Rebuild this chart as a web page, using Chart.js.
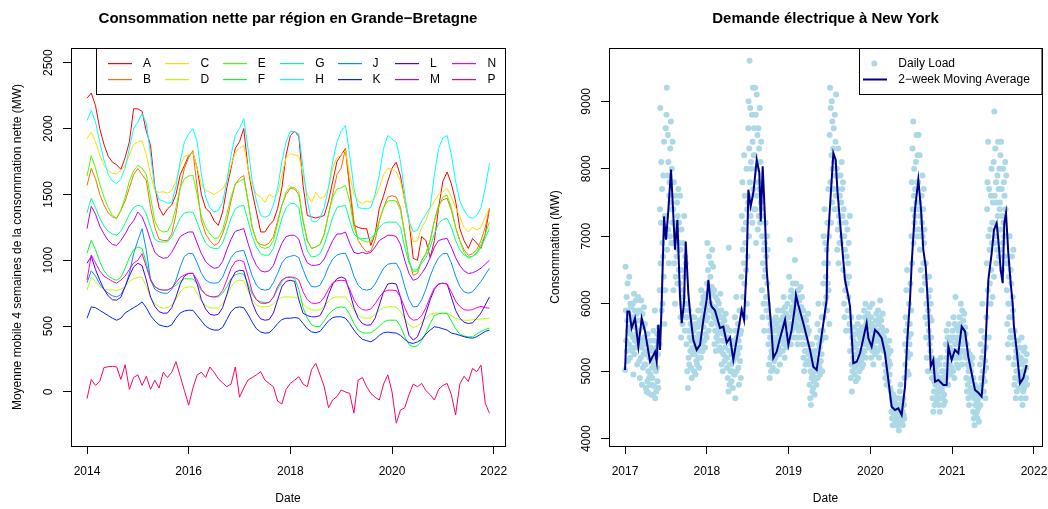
<!DOCTYPE html>
<html>
<head>
<meta charset="utf-8">
<script src="https://cdn.jsdelivr.net/npm/chart.js"></script>
<style>
body { margin: 0; background: #fff; }
#wrap { position: relative; width: 1048px; height: 509px; }
canvas { position: absolute; top: 0; }
</style>
</head>
<body>
<div id="wrap">
	<canvas id="gbChart" width="524" height="509" style="left:0"></canvas>
	<canvas id="nyChart" width="524" height="509" style="left:524px"></canvas>
</div>
<script>
// ---- data: left panel (monthly, Jan 2014 -> Dec 2021) ----
var regionNames = ["A", "B", "C", "D", "E", "F", "G", "H", "J", "K", "L", "M", "N", "P"]
var seriesA = [
	2230, 2270, 2174, 2000, 1880, 1790, 1745, 1725, 1690, 1780, 1900, 2150,
	2150, 2130, 1980, 1871, 1560, 1400, 1341, 1390, 1420, 1500, 1650, 1720,
	1795, 1820, 1700, 1500, 1394, 1366, 1300, 1265, 1366, 1550, 1700, 1850,
	1900, 2000, 1700, 1518, 1366, 1215, 1215, 1265, 1300, 1394, 1550, 1800,
	1947, 1980, 1940, 1568, 1340, 1330, 1320, 1330, 1340, 1450, 1600, 1750,
	1800, 1848, 1545, 1265, 1250, 1240, 1240, 1113, 1200, 1394, 1490, 1600,
	1700, 1745, 1640, 1450, 1300, 1015, 1000, 1180, 1150, 1020, 1150, 1400,
	1600, 1670, 1580, 1450, 1240, 1150, 1090, 1165, 1130, 1090, 1200, 1394]
var seriesB = [
	1568, 1697, 1620, 1500, 1420, 1360, 1330, 1318, 1380, 1450, 1550, 1650,
	1697, 1650, 1606, 1400, 1250, 1160, 1150, 1150, 1200, 1350, 1550, 1700,
	1780, 1833, 1550, 1300, 1200, 1150, 1113, 1130, 1200, 1300, 1450, 1580,
	1620, 1644, 1450, 1250, 1150, 1120, 1113, 1130, 1180, 1300, 1420, 1500,
	1545, 1540, 1500, 1300, 1150, 1090, 1100, 1120, 1200, 1350, 1500, 1650,
	1700, 1848, 1568, 1300, 1150, 1100, 1063, 1070, 1150, 1300, 1400, 1480,
	1490, 1480, 1400, 1200, 1000, 886, 900, 1000, 1050, 1150, 1300, 1420,
	1460, 1470, 1380, 1250, 1150, 1080, 1038, 1050, 1080, 1150, 1250, 1394]
var seriesC = [
	1924, 1972, 1900, 1800, 1720, 1680, 1660, 1657, 1680, 1720, 1800, 1880,
	1896, 1909, 1800, 1650, 1530, 1515, 1520, 1510, 1530, 1600, 1720, 1790,
	1800, 1820, 1700, 1580, 1530, 1517, 1500, 1520, 1540, 1600, 1720, 1820,
	1850, 1871, 1700, 1560, 1500, 1480, 1440, 1500, 1480, 1500, 1650, 1780,
	1810, 1800, 1790, 1650, 1500, 1440, 1515, 1470, 1480, 1550, 1700, 1780,
	1800, 1833, 1650, 1500, 1450, 1430, 1450, 1440, 1480, 1550, 1650, 1697,
	1690, 1672, 1600, 1450, 1300, 1139, 1150, 1250, 1300, 1394, 1450, 1500,
	1520, 1545, 1480, 1400, 1330, 1250, 1215, 1250, 1230, 1250, 1330, 1394]
var seriesD = [
	773, 873, 840, 800, 780, 775, 775, 770, 780, 800, 840, 860,
	870, 873, 800, 720, 670, 645, 636, 640, 660, 700, 760, 790,
	798, 798, 750, 690, 655, 640, 636, 640, 670, 730, 800, 840,
	848, 845, 770, 700, 660, 648, 646, 650, 670, 700, 720, 722,
	722, 720, 710, 670, 640, 625, 621, 625, 650, 690, 715, 722,
	722, 720, 680, 620, 580, 565, 560, 562, 590, 620, 640, 646,
	646, 645, 610, 560, 510, 490, 500, 530, 560, 590, 600, 598,
	598, 598, 580, 560, 550, 545, 545, 548, 550, 555, 558, 560]
var seriesE = [
	1640, 1795, 1700, 1580, 1480, 1400, 1340, 1318, 1380, 1480, 1600, 1680,
	1720, 1700, 1650, 1480, 1300, 1230, 1215, 1220, 1280, 1400, 1550, 1620,
	1640, 1644, 1500, 1330, 1250, 1200, 1166, 1170, 1230, 1350, 1480, 1580,
	1600, 1620, 1450, 1250, 1150, 1100, 1090, 1100, 1150, 1280, 1420, 1520,
	1556, 1550, 1520, 1300, 1150, 1090, 1100, 1120, 1200, 1350, 1480, 1540,
	1550, 1568, 1450, 1250, 1170, 1150, 1139, 1140, 1200, 1300, 1400, 1450,
	1455, 1450, 1380, 1200, 1000, 911, 920, 1000, 1050, 1150, 1300, 1400,
	1480, 1495, 1400, 1250, 1150, 1060, 1015, 1030, 1060, 1120, 1200, 1290]
var seriesF = [
	1053, 1152, 1080, 990, 920, 880, 860, 848, 870, 940, 1020, 1080,
	1101, 1090, 980, 860, 800, 780, 773, 775, 790, 810, 840, 860,
	860, 858, 820, 770, 740, 725, 720, 722, 750, 800, 860, 890,
	900, 895, 820, 740, 700, 685, 680, 682, 720, 780, 840, 870,
	873, 860, 780, 640, 560, 510, 495, 500, 540, 590, 620, 640,
	646, 640, 590, 520, 470, 450, 447, 450, 470, 500, 530, 545,
	545, 545, 500, 420, 360, 343, 350, 390, 450, 520, 580, 595,
	598, 596, 540, 480, 440, 425, 419, 420, 440, 460, 475, 485]
var seriesG = [
	1360, 1470, 1400, 1320, 1260, 1220, 1200, 1190, 1220, 1280, 1350, 1400,
	1417, 1410, 1350, 1250, 1160, 1140, 1139, 1140, 1180, 1250, 1320, 1360,
	1366, 1366, 1290, 1200, 1130, 1100, 1090, 1090, 1130, 1220, 1320, 1390,
	1410, 1417, 1300, 1180, 1100, 1050, 1038, 1040, 1090, 1200, 1320, 1400,
	1432, 1430, 1400, 1200, 1070, 1025, 1030, 1050, 1120, 1220, 1330, 1400,
	1410, 1417, 1300, 1200, 1170, 1166, 1166, 1170, 1200, 1250, 1280, 1290,
	1290, 1290, 1250, 1100, 980, 924, 930, 980, 1020, 1100, 1200, 1280,
	1310, 1318, 1250, 1150, 1080, 1040, 1025, 1030, 1050, 1100, 1170, 1240]
var seriesH = [
	2060, 2136, 2050, 1900, 1760, 1650, 1600, 1583, 1620, 1700, 1850, 2000,
	2050, 2113, 2040, 1800, 1550, 1460, 1450, 1432, 1440, 1560, 1750, 1900,
	1960, 2000, 1900, 1650, 1480, 1400, 1366, 1380, 1440, 1600, 1800, 1950,
	2000, 2076, 1850, 1600, 1450, 1340, 1328, 1340, 1420, 1550, 1750, 1900,
	1980, 1975, 1960, 1700, 1450, 1300, 1290, 1320, 1400, 1550, 1750, 1900,
	1980, 2023, 1800, 1550, 1400, 1394, 1390, 1400, 1500, 1650, 1850, 1947,
	1920, 1896, 1750, 1500, 1300, 1215, 1230, 1300, 1350, 1400, 1650, 1850,
	1930, 1947, 1800, 1600, 1450, 1380, 1330, 1318, 1340, 1400, 1550, 1735]
var seriesJ = [
	830, 920, 880, 820, 780, 750, 730, 722, 740, 800, 900, 1050,
	1150, 1240, 1076, 850, 780, 760, 750, 750, 780, 850, 950, 1030,
	1053, 1050, 980, 900, 850, 830, 826, 830, 870, 950, 1020, 1060,
	1070, 1076, 980, 880, 810, 780, 773, 780, 830, 900, 980, 1020,
	1030, 1038, 1020, 930, 850, 800, 798, 810, 870, 950, 1010, 1040,
	1050, 1053, 980, 880, 810, 780, 773, 780, 820, 880, 940, 970,
	977, 977, 920, 800, 700, 646, 650, 700, 780, 880, 960, 1020,
	1050, 1053, 980, 880, 800, 760, 750, 760, 800, 840, 890, 939]
var seriesK = [
	560, 646, 640, 620, 600, 580, 560, 545, 560, 600, 620, 640,
	659, 684, 640, 580, 540, 510, 500, 495, 510, 560, 600, 615,
	621, 620, 580, 540, 500, 480, 470, 470, 490, 550, 610, 640,
	646, 640, 590, 530, 480, 455, 447, 450, 480, 520, 550, 560,
	560, 565, 560, 520, 480, 457, 450, 460, 500, 540, 565, 571,
	571, 560, 520, 470, 430, 400, 390, 381, 400, 430, 450, 455,
	450, 447, 430, 400, 375, 369, 380, 400, 440, 470, 495, 490,
	480, 470, 447, 440, 430, 420, 412, 409, 420, 440, 460, 470]
var seriesL = [
	977, 1030, 930, 850, 780, 730, 700, 697, 720, 800, 880, 950,
	977, 960, 850, 720, 650, 610, 598, 600, 640, 720, 820, 880,
	900, 901, 820, 700, 630, 590, 583, 590, 640, 740, 850, 910,
	924, 920, 800, 680, 600, 555, 545, 550, 600, 700, 800, 840,
	848, 840, 700, 598, 580, 571, 571, 580, 640, 740, 820, 860,
	873, 860, 760, 640, 560, 520, 507, 510, 560, 660, 760, 820,
	826, 820, 720, 560, 430, 394, 420, 500, 600, 700, 780, 820,
	826, 820, 720, 620, 560, 530, 520, 525, 560, 600, 660, 722]
var seriesM = [
	1240, 1410, 1350, 1260, 1200, 1150, 1120, 1113, 1150, 1200, 1260, 1300,
	1366, 1330, 1250, 1150, 1060, 1030, 1015, 1020, 1060, 1120, 1180, 1200,
	1215, 1215, 1130, 1050, 990, 960, 939, 945, 990, 1080, 1160, 1220,
	1230, 1240, 1130, 1030, 960, 920, 911, 920, 960, 1050, 1130, 1180,
	1190, 1190, 1160, 1050, 980, 962, 962, 970, 1010, 1080, 1150, 1200,
	1200, 1215, 1130, 1060, 1050, 1060, 1050, 1060, 1100, 1150, 1170, 1190,
	1190, 1180, 1120, 1000, 900, 848, 860, 900, 950, 1020, 1100, 1150,
	1160, 1166, 1100, 1020, 960, 920, 900, 905, 920, 940, 970, 1000]
var seriesN = [
	850, 1040, 980, 920, 880, 860, 840, 826, 850, 880, 930, 980,
	1000, 1050, 950, 850, 800, 780, 773, 775, 790, 830, 870, 890,
	901, 900, 850, 780, 740, 725, 722, 730, 770, 850, 940, 990,
	1000, 990, 880, 760, 700, 675, 672, 680, 720, 800, 850, 870,
	873, 870, 850, 760, 700, 675, 672, 680, 720, 780, 830, 845,
	848, 845, 780, 700, 650, 625, 621, 630, 670, 720, 760, 773,
	773, 770, 720, 640, 570, 545, 550, 580, 640, 720, 790, 820,
	826, 820, 760, 690, 650, 625, 621, 625, 640, 650, 640, 636]
var seriesP = [
	-50, 95, 50, 80, 185, 192, 195, 190, 95, 207, 20, 110,
	130, 50, 120, 20, 90, 30, 150, 110, 150, 230, 120, 10,
	-100, 30, 130, 150, 110, 190, 150, 100, 70, 40, 60, 190,
	-40, 30, 91, 110, 130, 154, 90, 65, 40, -70, -90, 20,
	65, 90, 116, 60, 40, 170, 217, 130, 40, -120, -60, -35,
	15, 0, -10, -161, 90, 110, 40, -10, -40, -61, 60, 130,
	0, -237, -136, -120, -20, 60, 40, 65, 10, -20, -61, 20,
	50, 65, -20, -174, 60, 120, 80, 179, 154, 204, -86, -161]
var gbSeries = [seriesA, seriesB, seriesC, seriesD, seriesE, seriesF, seriesG,
	seriesH, seriesJ, seriesK, seriesL, seriesM, seriesN, seriesP]
var gbXTicks = [2014, 2016, 2018, 2020, 2022]
var gbYTicks = [0, 500, 1000, 1500, 2000, 2500]

// ---- data: right panel (daily load sampled 20 days a month, moving average) ----
var nyYears = [2017, 2018, 2019, 2020, 2021]
var nyLoad2017 = [
	[5020, 6550, 5900, 5450, 6100, 5300, 5750, 6300, 5150, 5600, 5850, 5400, 6400, 5650, 5200, 6000, 5550, 5950, 5350, 5750],
	[5800, 5300, 6000, 5500, 4950, 5700, 6150, 5250, 5900, 5450, 5650, 6050, 5350, 5850, 5550, 5100, 5750, 5400, 6100, 5600],
	[5600, 5150, 5900, 4900, 5400, 5750, 5200, 6050, 5350, 4800, 5450, 5850, 5050, 5650, 5250, 5950, 5500, 5100, 5700, 5300],
	[5100, 4750, 5400, 4700, 5250, 4850, 5550, 4680, 5000, 5300, 4900, 5200, 4800, 5450, 4950, 5350, 4650, 5150, 4800, 5050],
	[4900, 5300, 4650, 5600, 5100, 4780, 5450, 5900, 4600, 5200, 5000, 4700, 5350, 5050, 5550, 4850, 5250, 4750, 5400, 5650],
	[5400, 6200, 7400, 8900, 6600, 7200, 8100, 5900, 7700, 6900, 6000, 6700, 7900, 6400, 8400, 5700, 7300, 6200, 7000, 8600],
	[7300, 8800, 9200, 6800, 7900, 8500, 7100, 8100, 6600, 7600, 7800, 7000, 8300, 7500, 8700, 6900, 7400, 8000, 7200, 8400],
	[6900, 7400, 6200, 7800, 6600, 7200, 6000, 7600, 6400, 7000, 7100, 6700, 7500, 6300, 7300, 6800, 7700, 6500, 7200, 6900],
	[6300, 7600, 5800, 6800, 5500, 7100, 6000, 6500, 5700, 6200, 6100, 6900, 5900, 7300, 6400, 5600, 6700, 6000, 6600, 5800],
	[5400, 5800, 5000, 6000, 4750, 5600, 5200, 5900, 5100, 5500, 5600, 5300, 5700, 5050, 5450, 4900, 5800, 5350, 5650, 5250],
	[5300, 5600, 5000, 5800, 5250, 5500, 4950, 5700, 5400, 5150, 5450, 5100, 5650, 5350, 5900, 5200, 5550, 5050, 5750, 5300],
	[5500, 5900, 5200, 6200, 5700, 5400, 6000, 5300, 5800, 6100, 5650, 6050, 5450, 5850, 5350, 5950, 5550, 6150, 5750, 5500]]
var nyLoad2018 = [
	[6300, 6900, 5800, 6500, 6100, 5600, 6700, 5900, 6200, 6000, 6400, 6000, 6600, 5700, 6250, 6800, 5950, 6150, 6550, 5850],
	[5800, 6200, 5400, 5950, 5600, 6100, 5300, 5750, 5500, 5900, 5700, 6050, 5550, 5850, 5450, 6000, 5650, 5350, 5800, 6150],
	[5600, 5300, 5900, 5100, 5700, 5450, 5000, 5800, 5250, 5550, 5450, 5750, 5150, 5600, 5350, 5850, 5200, 5500, 5650, 5050],
	[5200, 4900, 5500, 4700, 6830, 5300, 4800, 5100, 5600, 5000, 5100, 5400, 4850, 5250, 5000, 5450, 4750, 5150, 5300, 4950],
	[5400, 4950, 5800, 4600, 5600, 5200, 6100, 5000, 5500, 5300, 5250, 5700, 5050, 5450, 4800, 5900, 5350, 5150, 5550, 4900],
	[5600, 6400, 7300, 5900, 7800, 6800, 6100, 7100, 6600, 8200, 6300, 7600, 6900, 5800, 7200, 6500, 8000, 6000, 7400, 6700],
	[7500, 8600, 9000, 7000, 8300, 9600, 7800, 8900, 7300, 8100, 8000, 7600, 8800, 7200, 8400, 9200, 7700, 8200, 8600, 7400],
	[8200, 9200, 7400, 8800, 6900, 8000, 9100, 7600, 8500, 7100, 7800, 8600, 7300, 8300, 7700, 8900, 7200, 8100, 7500, 8400],
	[7400, 6200, 7000, 5800, 6600, 7300, 6000, 6800, 5600, 6400, 6900, 6500, 7200, 6100, 6700, 5900, 7000, 6300, 6800, 6000],
	[5400, 5800, 5100, 5600, 4900, 5500, 5200, 5700, 5000, 5300, 5500, 5250, 5650, 5050, 5450, 5350, 5750, 5150, 5600, 5400],
	[5500, 5200, 5800, 5400, 5700, 5000, 5600, 5300, 5900, 5450, 5350, 5650, 5250, 5550, 5100, 5750, 5450, 5300, 5650, 5500],
	[5600, 5900, 5300, 5800, 5500, 6100, 5400, 5700, 5200, 5950, 5750, 5450, 5850, 5350, 5650, 5550, 6000, 5500, 5800, 5400]]
var nyLoad2019 = [
	[5800, 6400, 5500, 6950, 5700, 6100, 5400, 6200, 5900, 5600, 5950, 5650, 6300, 5850, 6050, 5500, 6150, 5750, 6650, 5650],
	[6000, 5700, 6300, 5500, 5900, 6100, 5400, 5800, 6200, 5600, 5850, 6050, 5650, 5950, 5500, 6250, 5750, 5950, 5650, 6100],
	[5700, 5400, 5900, 5200, 5600, 5000, 5800, 5300, 5500, 5100, 5500, 5750, 5300, 5650, 5150, 5550, 5400, 5850, 5250, 5600],
	[5100, 4800, 5300, 4600, 5000, 4500, 5200, 4900, 5400, 4700, 4950, 5150, 4750, 5250, 4850, 5050, 4650, 5300, 4900, 5100],
	[5200, 4800, 5500, 5000, 5700, 4900, 5300, 6000, 5100, 5400, 5050, 5350, 4950, 5600, 5150, 5450, 5250, 5800, 5000, 5500],
	[5600, 6300, 7000, 5800, 6600, 7400, 6000, 6900, 5500, 6400, 6100, 6800, 5900, 7200, 6300, 6600, 7700, 6200, 7000, 5700],
	[8500, 9200, 7800, 8900, 7200, 8200, 9000, 7500, 8700, 8000, 8300, 7700, 8600, 8100, 7400, 8800, 7900, 8400, 7600, 9100],
	[7400, 8000, 6800, 7700, 7100, 8300, 6600, 7300, 7900, 6900, 7600, 7200, 7900, 6900, 7500, 8100, 7000, 7700, 7300, 7800],
	[6500, 7400, 6000, 7000, 5800, 6800, 6200, 7200, 5600, 6400, 6700, 6300, 7100, 5900, 6600, 6100, 6900, 6400, 5700, 7300],
	[5300, 5600, 4900, 5800, 5100, 4700, 5500, 5000, 5400, 5200, 5450, 5150, 5650, 4950, 5350, 5050, 5550, 4850, 5250, 5400],
	[5400, 5100, 5700, 4900, 5600, 5300, 5800, 5000, 5500, 5200, 5300, 5550, 5150, 5450, 5050, 5650, 5250, 5500, 5100, 5400],
	[5600, 5900, 5300, 5800, 5500, 6000, 5200, 5700, 5400, 5750, 5650, 5450, 5850, 5550, 5750, 5350, 5650, 5950, 5500, 5700]]
var nyLoad2020 = [
	[5500, 5800, 5200, 5700, 5400, 6000, 5300, 5600, 5100, 5650, 5450, 5650, 5350, 5550, 5250, 5750, 5450, 5850, 5300, 5500],
	[5600, 5300, 5900, 5450, 5700, 5200, 5800, 5500, 6050, 5350, 5500, 5750, 5400, 5650, 5350, 5550, 5850, 5450, 5600, 5300],
	[5500, 5100, 5400, 4900, 5300, 5000, 5600, 4800, 5200, 4950, 5350, 5050, 5250, 4850, 5150, 5450, 4950, 5100, 4750, 5300],
	[4700, 4400, 4600, 4300, 4550, 4200, 4500, 4650, 4350, 4450, 4550, 4350, 4500, 4250, 4600, 4400, 4300, 4500, 4200, 4400],
	[4400, 4200, 4600, 4120, 4500, 4300, 4700, 4250, 4800, 4450, 4350, 4500, 4250, 4550, 4400, 4200, 4600, 4350, 4500, 4300],
	[4900, 5400, 5100, 5800, 5600, 6200, 5300, 6500, 5000, 5700, 5200, 5500, 4950, 6000, 5400, 5700, 5250, 6300, 5550, 5900],
	[7000, 7800, 6600, 8300, 7400, 8700, 6900, 7600, 8000, 7200, 7300, 7700, 7100, 8100, 7500, 8500, 7000, 7800, 8200, 7400],
	[7800, 8500, 7100, 7500, 8200, 6800, 7300, 6500, 7000, 6200, 7600, 7200, 7900, 7000, 7400, 6600, 7700, 6900, 7100, 6400],
	[6300, 5800, 6600, 5500, 6000, 5200, 6400, 5700, 5000, 5900, 6100, 5600, 6400, 5400, 6200, 5800, 5300, 6000, 5500, 5750],
	[4900, 5200, 4600, 5000, 4400, 5100, 4700, 4850, 4500, 5000, 4800, 5050, 4700, 4950, 4550, 5150, 4650, 4900, 4600, 4750],
	[4800, 4500, 5100, 4400, 4900, 4700, 5200, 4600, 5000, 4750, 4700, 4900, 4600, 4850, 4500, 5000, 4650, 4800, 4550, 4950],
	[5100, 5400, 4900, 5600, 5200, 5000, 5500, 5300, 4800, 5700, 5200, 5000, 5350, 5100, 5450, 4950, 5250, 5500, 5050, 5300]]
var nyLoad2021 = [
	[5300, 5600, 5000, 5800, 5200, 5500, 4900, 5700, 5400, 6100, 5400, 5200, 5500, 5100, 5650, 5300, 5450, 5050, 5600, 5250],
	[5500, 5800, 5200, 5700, 5300, 6000, 5400, 5600, 5100, 5900, 5600, 5400, 5750, 5300, 5500, 5850, 5450, 5650, 5250, 5550],
	[5200, 4900, 5400, 4700, 5100, 4800, 5300, 4600, 5000, 4500, 5050, 5250, 4850, 5150, 4750, 5000, 4650, 5100, 4900, 5200],
	[4700, 4400, 4900, 4300, 4600, 4200, 4800, 4500, 4650, 4350, 4500, 4650, 4400, 4550, 4300, 4750, 4450, 4600, 4250, 4500],
	[4700, 5100, 4500, 5400, 4900, 5600, 4800, 5200, 6000, 5000, 4900, 5300, 4700, 5000, 5500, 4850, 5150, 4600, 5350, 5050],
	[5800, 6600, 7400, 7800, 6200, 8400, 7000, 5500, 7700, 6800, 6300, 7100, 6000, 7600, 6500, 8000, 6900, 7200, 6100, 7500],
	[7200, 8100, 6400, 8850, 7600, 6900, 8300, 7000, 7800, 6600, 7500, 6800, 7900, 7300, 8400, 7100, 7700, 6700, 8000, 7400],
	[7500, 8200, 6800, 8400, 7100, 7700, 6500, 7300, 6900, 8000, 7200, 7800, 7000, 7600, 6700, 8100, 7400, 7000, 7900, 6600],
	[6200, 5700, 6600, 5400, 6000, 5200, 6400, 5800, 7000, 5500, 6000, 6500, 5600, 6300, 5800, 6700, 5500, 6100, 5900, 6800],
	[5100, 5400, 4800, 5600, 4900, 5200, 4600, 5300, 5000, 4700, 5000, 5250, 4900, 5450, 5100, 4750, 5350, 4850, 5150, 4950],
	[4900, 5200, 4600, 5500, 4800, 5100, 4500, 5000, 4700, 5300, 5000, 4750, 5350, 4850, 5150, 4600, 5050, 4900, 5250, 4800]]
var maDates = [
	2017.000, 2017.029, 2017.053, 2017.081, 2017.122, 2017.163, 2017.204, 2017.245, 2017.306, 2017.367,
	2017.387, 2017.407, 2017.428, 2017.448, 2017.477, 2017.501, 2017.530, 2017.562, 2017.583, 2017.611,
	2017.640, 2017.672, 2017.693, 2017.721, 2017.742, 2017.774, 2017.795, 2017.835, 2017.876, 2017.917,
	2017.958, 2017.998, 2018.019, 2018.047, 2018.059, 2018.100, 2018.161, 2018.202, 2018.243, 2018.284,
	2018.324, 2018.365, 2018.426, 2018.455, 2018.467, 2018.487, 2018.508, 2018.536, 2018.569, 2018.610,
	2018.642, 2018.659, 2018.683, 2018.711, 2018.732, 2018.760, 2018.793, 2018.813, 2018.854, 2018.895,
	2018.956, 2018.997, 2019.037, 2019.078, 2019.090, 2019.119, 2019.180, 2019.262, 2019.302, 2019.343,
	2019.384, 2019.425, 2019.465, 2019.474, 2019.506, 2019.547, 2019.575, 2019.596, 2019.628, 2019.661,
	2019.689, 2019.730, 2019.751, 2019.791, 2019.832, 2019.873, 2019.914, 2019.954, 2019.975, 2020.015,
	2020.056, 2020.097, 2020.138, 2020.178, 2020.219, 2020.260, 2020.301, 2020.342, 2020.382, 2020.423,
	2020.451, 2020.484, 2020.505, 2020.545, 2020.586, 2020.619, 2020.647, 2020.676, 2020.688, 2020.708,
	2020.737, 2020.769, 2020.790, 2020.831, 2020.892, 2020.932, 2020.953, 2020.993, 2021.034, 2021.075,
	2021.116, 2021.157, 2021.197, 2021.238, 2021.279, 2021.320, 2021.360, 2021.401, 2021.421, 2021.442,
	2021.483, 2021.511, 2021.544, 2021.564, 2021.593, 2021.617, 2021.637, 2021.658, 2021.686, 2021.715,
	2021.739, 2021.755, 2021.788, 2021.829, 2021.870, 2021.910]
var maValues = [
	5019, 5884, 5884, 5638, 5786, 5365, 5786, 5588, 5143, 5291,
	5143, 5687, 5316, 6009, 7294, 6948, 7393, 7987, 7492, 6800,
	7245, 6107, 5712, 6013, 6923, 6157, 5865, 5464, 5316, 5390,
	5761, 6058, 6355, 6009, 5959, 5900, 5642, 5660, 5420, 5500,
	5168, 5464, 5910, 5760, 6058, 6552, 7690, 7442, 7645, 8135,
	7942, 7219, 8036, 7269, 6503, 6058, 5568, 5197, 5290, 5490,
	5761, 5390, 5613, 5959, 6132, 5983, 5712, 5316, 5068, 5019,
	5365, 5712, 6058, 6800, 7442, 8234, 8135, 7690, 7219, 6751,
	6355, 6107, 5959, 5118, 5140, 5266, 5490, 5712, 5490, 5365,
	5613, 5564, 5490, 5266, 4871, 4475, 4426, 4450, 4352, 4772,
	5464, 6058, 6602, 7393, 7838, 7393, 6800, 6552, 6305, 5910,
	5068, 5168, 4846, 4870, 4797, 4797, 5365, 5168, 5316, 5266,
	5662, 5590, 5217, 4970, 4723, 4680, 4624, 5217, 5761, 6355,
	6751, 7096, 7195, 6948, 6503, 6305, 7195, 7343, 6751, 6305,
	6009, 5662, 5316, 4822, 4900, 5093]
var nyXTicks = [2017, 2018, 2019, 2020, 2021, 2022]
var nyYTicks = [4000, 5000, 6000, 7000, 8000, 9000]

// ---- style ----
var FONT = '"Liberation Sans", Arial, Helvetica, sans-serif'
var regionColors = ["#FF0000", "#FF6D00", "#FFDB00", "#B6FF00", "#49FF00", "#00FF24", "#00FF92",
	"#00FFFF", "#0092FF", "#0024FF", "#4900FF", "#B600FF", "#FF00DB", "#FF006D"]
Chart.defaults.font.family = FONT
Chart.defaults.font.size = 12
Chart.defaults.color = "#000"

function xScale(min, max, ticks) {
	return {
		type: "linear",
		min: min,
		max: max,
		afterBuildTicks: function (s) { s.ticks = ticks.map(function (v) { return {value: v} }) },
		afterFit: function (s) { s.height = 63; s.paddingLeft = 0; s.paddingRight = 0 },
		ticks: {padding: 10, maxRotation: 0, minRotation: 0, autoSkip: false, color: "#000",
			callback: function (v) { return String(v) }},
		grid: {drawOnChartArea: false, drawTicks: true, tickLength: 8, color: "#000", tickColor: "#000"},
		border: {display: false},
	}
}
function yScale(min, max, ticks, width) {
	return {
		type: "linear",
		min: min,
		max: max,
		afterBuildTicks: function (s) { s.ticks = ticks.map(function (v) { return {value: v} }) },
		afterFit: function (s) { s.width = width; s.paddingTop = 0; s.paddingBottom = 0 },
		ticks: {display: false},
		grid: {drawOnChartArea: false, drawTicks: true, tickLength: 8, color: "#000", tickColor: "#000"},
		border: {display: false},
	}
}

// R-like frame, titles and rotated y labels
function drawFrame(chart, title, yTitle, yTicks) {
	var ctx = chart.ctx, a = chart.chartArea, ys = chart.scales.y
	ctx.save()
	ctx.strokeStyle = "#000"
	ctx.lineWidth = 1
	ctx.strokeRect(Math.round(a.left) + 0.5, Math.round(a.top) + 0.5, Math.round(a.right - a.left), Math.round(a.bottom - a.top))
	ctx.fillStyle = "#000"
	ctx.textAlign = "center"
	ctx.textBaseline = "middle"
	ctx.font = "bold 15px " + FONT
	ctx.fillText(title, (a.left + a.right) / 2, 19)
	ctx.font = "12px " + FONT
	ctx.fillText("Date", (a.left + a.right) / 2, 499)
	yTicks.forEach(function (v) {
		ctx.save()
		ctx.translate(a.left - 22, ys.getPixelForValue(v))
		ctx.rotate(-Math.PI / 2)
		ctx.fillText(String(v), 0, 0)
		ctx.restore()
	})
	ctx.translate(a.left - 53, (a.top + a.bottom) / 2)
	ctx.rotate(-Math.PI / 2)
	ctx.fillText(yTitle, 0, 0)
	ctx.restore()
}

var gbDecor = {
	id: "gbDecor",
	afterDraw: function (chart) {
		drawFrame(chart, "Consommation nette par région en Grande\u2212Bretagne",
			"Moyenne mobile 4 semaines de la consommation nette (MW)", gbYTicks)
		var ctx = chart.ctx, a = chart.chartArea
		ctx.save()
		ctx.fillStyle = "#fff"
		ctx.fillRect(96.5, a.top + 0.5, a.right - 96, 46)
		ctx.strokeStyle = "#000"
		ctx.lineWidth = 1
		ctx.strokeRect(96.5, a.top + 0.5, a.right - 96, 46)
		ctx.font = "12px " + FONT
		ctx.textBaseline = "middle"
		ctx.textAlign = "left"
		regionNames.forEach(function (name, i) {
			var x0 = 108 + Math.floor(i / 2) * 57.4
			var yy = 63 + (i % 2) * 16
			ctx.fillStyle = regionColors[i]
			ctx.fillRect(Math.round(x0), yy, 24, 1.2)
			ctx.fillStyle = "#000"
			ctx.fillText(name, x0 + 35, yy + 0.5)
		})
		ctx.restore()
	},
}

var nyDecor = {
	id: "nyDecor",
	afterDraw: function (chart) {
		drawFrame(chart, "Demande électrique à New York", "Consommation (MW)", nyYTicks)
		var ctx = chart.ctx, a = chart.chartArea
		var bx = 335.5
		ctx.save()
		ctx.fillStyle = "#fff"
		ctx.fillRect(bx, a.top + 0.5, a.right - bx, 46)
		ctx.strokeStyle = "#000"
		ctx.lineWidth = 1
		ctx.strokeRect(bx, a.top + 0.5, a.right - bx, 46)
		ctx.fillStyle = "#ADD8E6"
		ctx.beginPath()
		ctx.arc(350.3, 63.5, 3, 0, Math.PI * 2)
		ctx.fill()
		ctx.fillStyle = "#00008B"
		ctx.fillRect(339, 78.5, 24, 2)
		ctx.fillStyle = "#000"
		ctx.font = "12px " + FONT
		ctx.textBaseline = "middle"
		ctx.textAlign = "left"
		ctx.fillText("Daily Load", 374.3, 63.5)
		ctx.fillText("2\u2212week Moving Average", 374.3, 79.5)
		ctx.restore()
	},
}

// ---- left chart ----
var gbDates = seriesA.map(function (_, i) { return 2014 + i / 12 })
new Chart(document.getElementById("gbChart"), {
	type: "line",
	data: {
		datasets: gbSeries.map(function (vals, i) {
			return {
				label: regionNames[i],
				data: vals.map(function (v, j) { return {x: gbDates[j], y: v} }),
				borderColor: regionColors[i],
				borderWidth: 1,
				pointRadius: 0,
				tension: 0,
				fill: false,
				order: gbSeries.length - i,
			}
		}),
	},
	options: {
		responsive: false,
		animation: false,
		events: [],
		layout: {padding: {top: 48, right: 19, bottom: 0, left: 0}},
		scales: {
			x: xScale(2013.685, 2022.222, gbXTicks),
			y: yScale(-410, 2611.6, gbYTicks, 71),
		},
		plugins: {legend: {display: false}, tooltip: {enabled: false}},
	},
	plugins: [gbDecor],
})

// ---- right chart ----
var loadPoints = []
var nyLoadByYear = [nyLoad2017, nyLoad2018, nyLoad2019, nyLoad2020, nyLoad2021]
nyYears.forEach(function (yr, yi) {
	nyLoadByYear[yi].forEach(function (vals, mi) {
		vals.forEach(function (v, k) {
			loadPoints.push({x: yr + (mi + (k + 0.5) / vals.length) / 12, y: v})
		})
	})
})
new Chart(document.getElementById("nyChart"), {
	type: "scatter",
	data: {
		datasets: [
			{
				label: "Daily Load",
				data: loadPoints,
				pointRadius: 3,
				pointBorderWidth: 0,
				backgroundColor: "#ADD8E6",
				borderColor: "#ADD8E6",
				order: 2,
			},
			{
				label: "2-week Moving Average",
				data: maDates.map(function (d, i) { return {x: d, y: maValues[i]} }),
				showLine: true,
				borderColor: "#00008B",
				borderWidth: 2,
				pointRadius: 0,
				tension: 0,
				order: 1,
			},
		],
	},
	options: {
		responsive: false,
		animation: false,
		events: [],
		layout: {padding: {top: 48, right: 6, bottom: 0, left: 0}},
		scales: {
			x: xScale(2016.804, 2022.098, nyXTicks),
			y: yScale(3892, 9790, nyYTicks, 85),
		},
		plugins: {legend: {display: false}, tooltip: {enabled: false}},
	},
	plugins: [nyDecor],
})
</script>
</body>
</html>
